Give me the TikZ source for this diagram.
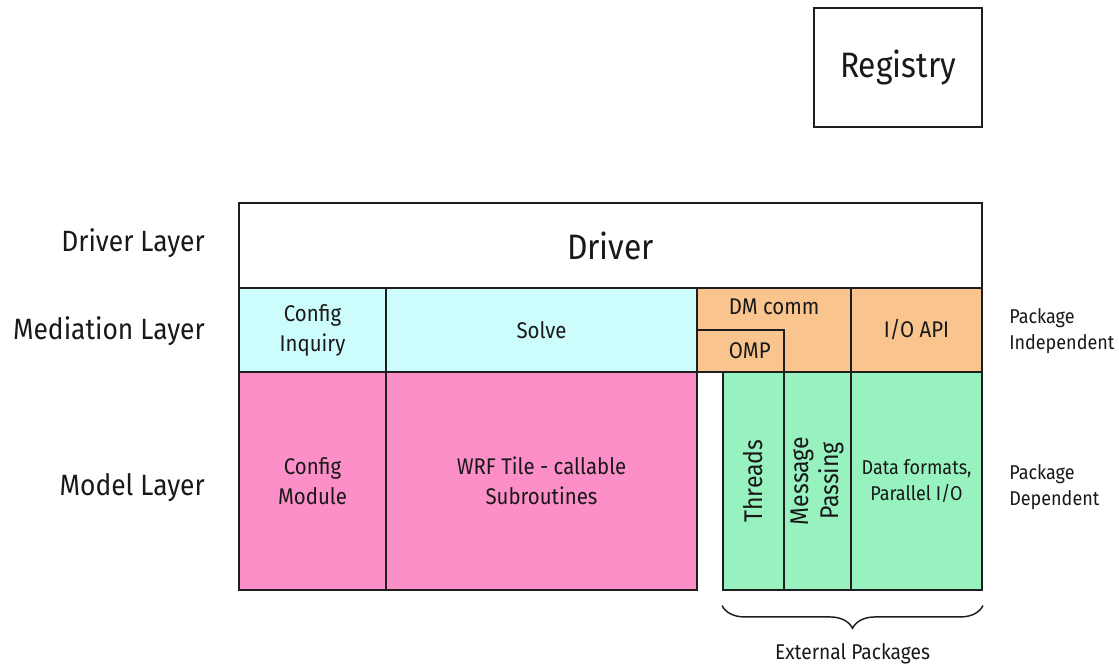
\documentclass[tikz,border=0pt]{standalone}
\usepackage{fontspec}
\setmainfont{Fira Sans}[FakeStretch=0.9]
\usetikzlibrary{decorations.pathreplacing}
\definecolor{cyanf}{RGB}{204,252,252}
\definecolor{pinkf}{RGB}{252,143,200}
\definecolor{orangef}{RGB}{249,196,142}
\definecolor{greenf}{RGB}{152,242,192}
\definecolor{linec}{RGB}{30,30,30}
\definecolor{txtc}{RGB}{25,25,25}
\tikzset{
  blk/.style={draw=linec, line width=1.4pt, inner sep=0pt, align=center, text=txtc,
    font=\fontsize{17}{22.5}\selectfont},
  rot/.style={rotate=90, anchor=center, align=center, text=txtc,
    font=\fontsize{19.2}{22}\selectfont},
  lay/.style={anchor=east, inner sep=0pt, text=txtc, font=\fontsize{22}{24}\selectfont},
  side/.style={anchor=west, inner sep=0pt, align=left, text=txtc, font=\fontsize{15}{20}\selectfont},
  bigtxt/.style={font=\fontsize{26.5}{28}\selectfont},
}
\begin{document}
\begin{tikzpicture}[x=0.75pt,y=-0.75pt]
\useasboundingbox (0,0) rectangle (1119,667);
% registry
\node[blk, bigtxt, minimum width=126pt, minimum height=89.25pt] (reg) at (898,67.5) {Registry};
% driver
\node[blk, bigtxt, fill=white, minimum width=557.25pt, minimum height=63.75pt] (drv) at (610.5,245.5) {Driver};
% mediation layer
\node[blk, fill=cyanf, minimum width=110.25pt, minimum height=63pt] (cfi) at (312.5,330) {Config\\Inquiry};
\node[blk, fill=cyanf, minimum width=233.25pt, minimum height=63pt] (sol) at (541.5,330) {Solve};
\node[blk, fill=orangef, minimum width=115.5pt, minimum height=63pt,
  label={[anchor=center, yshift=-14.5pt, text=txtc, font=\fontsize{17}{18}\selectfont]north:DM comm}] (dm) at (774,330) {};
\node[blk, fill=orangef, minimum width=65.25pt, minimum height=31.5pt] (omp) at (740.5,351) {\hspace*{14pt}OMP};
\node[blk, fill=orangef, minimum width=98.25pt, minimum height=63pt] (io) at (916.5,330) {I/O API};
% model layer
\node[blk, fill=pinkf, minimum width=110.25pt, minimum height=163.5pt] (cfm) at (312.5,481) {Config\\Module};
\node[blk, fill=pinkf, minimum width=233.25pt, minimum height=163.5pt] (wrf) at (541.5,481) {WRF Tile - callable\\Subroutines};
\node[blk, fill=greenf, minimum width=45.75pt, minimum height=163.5pt,
  label={[rot]center:Threads}] (thr) at (753.5,481) {};
\node[blk, fill=greenf, minimum width=50.25pt, minimum height=163.5pt,
  label={[rot]center:Message\\Passing}] (msg) at (817.5,481) {};
\node[blk, fill=greenf, minimum width=98.25pt, minimum height=163.5pt,
  font=\fontsize{15}{19}\selectfont] (dat) at (916.5,481) {Data formats,\\Parallel I/O};
% layer labels
\node[lay] (ldrv) at (205,243) {Driver Layer};
\node[lay] (lmed) at (205,331) {Mediation Layer};
\node[lay] (lmod) at (205,488) {Model Layer};
% side labels
\node[side] (pind) at (1009,331) {Package\\Independent};
\node[side] (pdep) at (1009,487) {Package\\Dependent};
% brace
\draw[linec, line width=1.1pt, decorate, decoration={brace, mirror, amplitude=17pt, aspect=0.5}]
  ([yshift=-11pt]thr.south west) -- ([yshift=-11pt]dat.south east)
  coordinate[midway] (bmid);
\node[text=txtc, font=\fontsize{16}{16}\selectfont] (ext) at ([yshift=-36pt]bmid) {External Packages};
\end{tikzpicture}
\end{document}
